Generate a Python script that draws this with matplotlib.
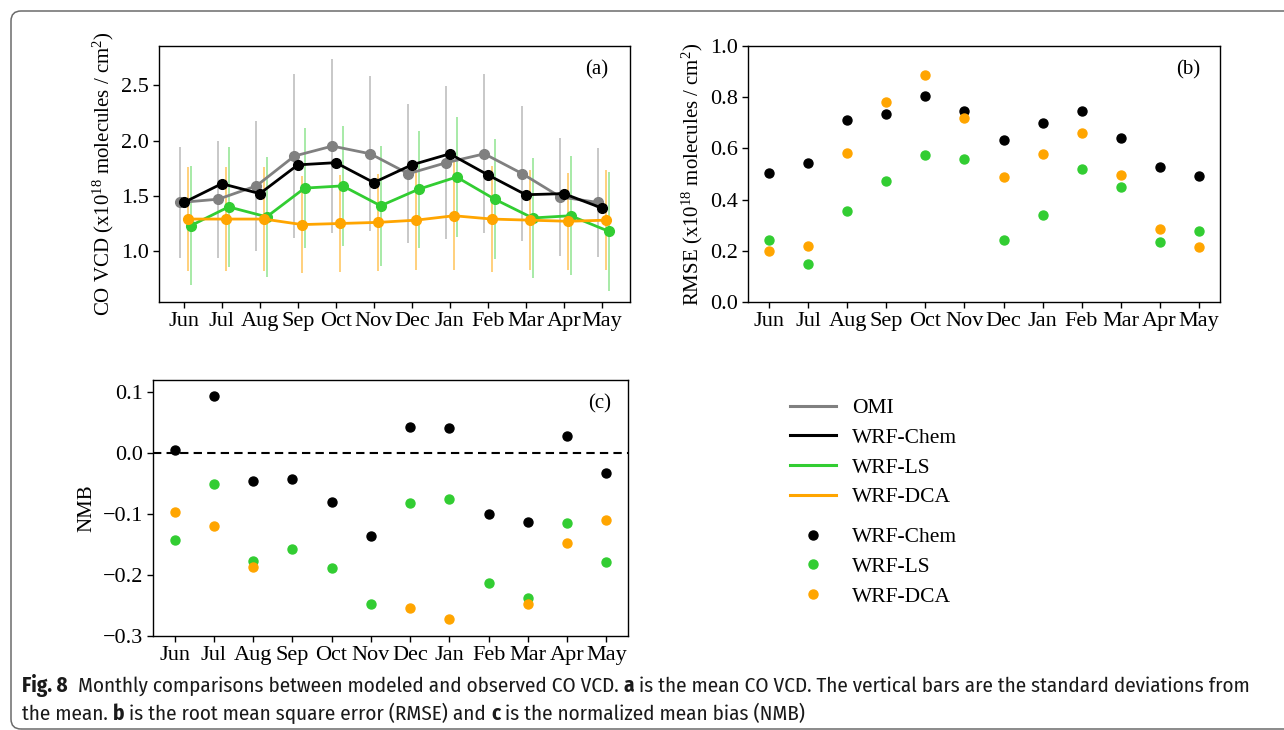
import numpy as np
import matplotlib
matplotlib.use("Agg")
import matplotlib.pyplot as plt
from matplotlib.lines import Line2D
from matplotlib.patches import FancyBboxPatch
from matplotlib.transforms import IdentityTransform
import logging
logging.getLogger('matplotlib.font_manager').setLevel(logging.ERROR)

plt.rcParams['font.family'] = ['Liberation Serif', 'DejaVu Serif']
plt.rcParams['mathtext.fontset'] = 'custom'
plt.rcParams['mathtext.rm'] = 'Liberation Serif'
plt.rcParams['mathtext.it'] = 'Liberation Serif:italic'
plt.rcParams['mathtext.bf'] = 'Liberation Serif:bold'

# ---------------- data ----------------
months = ["Jun", "Jul", "Aug", "Sep", "Oct", "Nov", "Dec", "Jan", "Feb", "Mar", "Apr", "May"]

# (a) mean CO VCD (x1e18 molecules/cm2) and standard deviations
omi_mean = [1.44, 1.47, 1.59, 1.86, 1.95, 1.88, 1.70, 1.80, 1.88, 1.70, 1.49, 1.44]
omi_std = [0.50, 0.53, 0.59, 0.74, 0.79, 0.70, 0.63, 0.69, 0.72, 0.61, 0.53, 0.49]
chem_mean = [1.44, 1.61, 1.52, 1.78, 1.80, 1.62, 1.78, 1.88, 1.69, 1.51, 1.52, 1.39]
ls_mean = [1.23, 1.40, 1.31, 1.57, 1.59, 1.41, 1.56, 1.67, 1.47, 1.30, 1.32, 1.18]
ls_std = [0.54, 0.54, 0.54, 0.54, 0.54, 0.54, 0.53, 0.54, 0.54, 0.54, 0.54, 0.54]
dca_mean = [1.29, 1.29, 1.29, 1.24, 1.25, 1.26, 1.28, 1.32, 1.29, 1.28, 1.27, 1.28]
dca_std = [0.47, 0.47, 0.47, 0.44, 0.44, 0.44, 0.45, 0.49, 0.48, 0.45, 0.44, 0.45]

# (b) RMSE
rmse_chem = [0.502, 0.543, 0.712, 0.734, 0.803, 0.748, 0.632, 0.698, 0.746, 0.639, 0.529, 0.494]
rmse_ls = [0.243, 0.147, 0.355, 0.471, 0.573, 0.560, 0.243, 0.340, 0.521, 0.449, 0.236, 0.278]
rmse_dca = [0.201, 0.220, 0.582, 0.782, 0.886, 0.720, 0.489, 0.578, 0.659, 0.495, 0.285, 0.213]

# (c) NMB (NaN: below the plotted range)
nmb_chem = [0.005, 0.093, -0.045, -0.043, -0.080, -0.136, 0.043, 0.041, -0.100, -0.113, 0.028, -0.032]
nmb_ls = [-0.142, -0.050, -0.177, -0.157, -0.188, -0.248, -0.081, -0.076, -0.213, -0.237, -0.115, -0.179]
nmb_dca = [-0.096, -0.120, -0.187, np.nan, np.nan, np.nan, -0.254, -0.272, np.nan, -0.248, -0.148, -0.109]

C_OMI = "#808080"
C_CHEM = "black"
C_LS = "#32CD32"
C_DCA = "#FFA500"

W, H = 1284, 730
fig = plt.figure(figsize=(W / 100, H / 100), dpi=100)

def ax_px(l, t, r, b):
    return fig.add_axes([l / W, 1 - b / H, (r - l) / W, (b - t) / H])

FS = 15
TFS = 16
x = np.arange(len(months))

# ---------------- (a) ----------------
axa = ax_px(159, 46, 630, 302)
off = {"omi": -0.09, "chem": 0.0, "dca": 0.11, "ls": 0.18}
axa.errorbar(x + off["omi"], omi_mean, yerr=omi_std, fmt='none', ecolor=C_OMI, alpha=0.5, elinewidth=1.2)
axa.errorbar(x + off["ls"], ls_mean, yerr=ls_std, fmt='none', ecolor=C_LS, alpha=0.5, elinewidth=1.2)
axa.errorbar(x + off["dca"], dca_mean, yerr=dca_std, fmt='none', ecolor=C_DCA, alpha=0.6, elinewidth=1.2)
axa.plot(x + off["omi"], omi_mean, '-o', color=C_OMI, lw=2, ms=7)
axa.plot(x + off["chem"], chem_mean, '-o', color=C_CHEM, lw=2, ms=7)
axa.plot(x + off["ls"], ls_mean, '-o', color=C_LS, lw=2, ms=7)
axa.plot(x + off["dca"], dca_mean, '-o', color=C_DCA, lw=2, ms=7)
axa.set_ylim(0.54, 2.855)
axa.set_yticks([1.0, 1.5, 2.0, 2.5])
axa.set_xticks(x)
axa.set_xticklabels(months)
axa.set_ylabel("CO VCD (x10$^{18}$ molecules / cm$^{2}$)", fontsize=FS, labelpad=4)
axa.text(0.93, 0.905, "(a)", transform=axa.transAxes, fontsize=FS, ha='center', va='center')

# ---------------- (b) ----------------
axb = ax_px(748, 46, 1220, 302)
axb.scatter(x, rmse_chem, s=42, color=C_CHEM, zorder=3)
axb.scatter(x, rmse_ls, s=42, color=C_LS, zorder=3)
axb.scatter(x, rmse_dca, s=42, color=C_DCA, zorder=3)
axb.set_ylim(0, 1.0)
axb.set_yticks([0.0, 0.2, 0.4, 0.6, 0.8, 1.0])
axb.set_xticks(x)
axb.set_xticklabels(months)
axb.set_ylabel("RMSE (x10$^{18}$ molecules / cm$^{2}$)", fontsize=FS, labelpad=4)
axb.text(0.932, 0.905, "(b)", transform=axb.transAxes, fontsize=FS, ha='center', va='center')

# ---------------- (c) ----------------
axc = ax_px(153, 380, 628, 636)
axc.axhline(0, color='black', ls='--', lw=1.5, dashes=(4, 2.5))
axc.scatter(x, nmb_chem, s=42, color=C_CHEM, zorder=3)
axc.scatter(x, nmb_ls, s=42, color=C_LS, zorder=3)
axc.scatter(x, nmb_dca, s=42, color=C_DCA, zorder=3)
axc.set_ylim(-0.3, 0.12)
axc.set_yticks([-0.3, -0.2, -0.1, 0.0, 0.1])
axc.set_xticks(x)
axc.set_xticklabels(months)
axc.set_ylabel("NMB", fontsize=FS, labelpad=5)
axc.text(0.94, 0.905, "(c)", transform=axc.transAxes, fontsize=FS, ha='center', va='center')

for ax in (axa, axb, axc):
    ax.tick_params(labelsize=TFS, length=4, width=1, pad=3)
    for sp in ax.spines.values():
        sp.set_linewidth(1)

# ---------------- legends ----------------
LFS = 15.5
line_handles = [Line2D([], [], color=c, lw=2.2) for c in (C_OMI, C_CHEM, C_LS, C_DCA)]
fig.legend(line_handles, ["OMI", "WRF-Chem", "WRF-LS", "WRF-DCA"],
           loc='upper left', bbox_to_anchor=(790 / W, 1 - 398 / H), frameon=False,
           fontsize=LFS, borderpad=0, borderaxespad=0, handlelength=2.15,
           handletextpad=0.75, labelspacing=0.45)
mk_handles = [Line2D([], [], color=c, lw=0, marker='o', ms=6.5) for c in (C_CHEM, C_LS, C_DCA)]
fig.legend(mk_handles, ["WRF-Chem", "WRF-LS", "WRF-DCA"],
           loc='upper left', bbox_to_anchor=(790 / W, 1 - 527 / H), frameon=False,
           fontsize=LFS, borderpad=0, borderaxespad=0, handlelength=2.15,
           handletextpad=0.75, labelspacing=0.45)

# ---------------- frame ----------------
frame = FancyBboxPatch((11, 1), 1400, 718, boxstyle="round,pad=0,rounding_size=10",
                       transform=IdentityTransform(), facecolor='none', edgecolor='#6b6b6b', lw=1.1)
fig.add_artist(frame)

# ---------------- caption ----------------
CAP_FAM = ['Fira Sans Condensed', 'Roboto Condensed', 'Liberation Sans Narrow', 'Open Sans Condensed',
           'Roboto', 'DejaVu Sans']
NORMAL_W = 'normal'
renderer = fig.canvas.get_renderer()

def measure(txt, size, weight):
    t = fig.text(0, 0, txt, fontsize=size, fontweight=weight, family=CAP_FAM)
    w = t.get_window_extent(renderer).width
    t.remove()
    return w

line1 = [("Fig. 8", 'bold', 2), ("Monthly comparisons between modeled and observed CO VCD.", NORMAL_W, 1),
         ("a", 'bold', 1), ("is the mean CO VCD. The vertical bars are the standard deviations from", NORMAL_W, 0)]
line2 = [("the mean.", NORMAL_W, 1), ("b", 'bold', 1), ("is the root mean square error (RMSE) and", NORMAL_W, 1),
         ("c", 'bold', 1), ("is the normalized mean bias (NMB)", NORMAL_W, 0)]

def space_w(size):
    return measure("a a", size, NORMAL_W) - measure("aa", size, NORMAL_W)

def line_width(segs, size):
    sp = space_w(size)
    return sum(measure(s, size, w) + n * sp for s, w, n in segs)

size = 13.0
target = 1250 - 22
size = size * target / line_width(line1, size)

def draw_line(segs, x0, ybase, size):
    sp = space_w(size)
    xx = x0
    for s, w, n in segs:
        fig.text(xx / W, 1 - ybase / H, s, fontsize=size, fontweight=w, family=CAP_FAM,
                 va='baseline', ha='left', color='#1a1a1a')
        xx += measure(s, size, w) + n * sp

draw_line(line1, 22, 692, size)
draw_line(line2, 22, 720, size)

fig.savefig("out.png", dpi=100)
